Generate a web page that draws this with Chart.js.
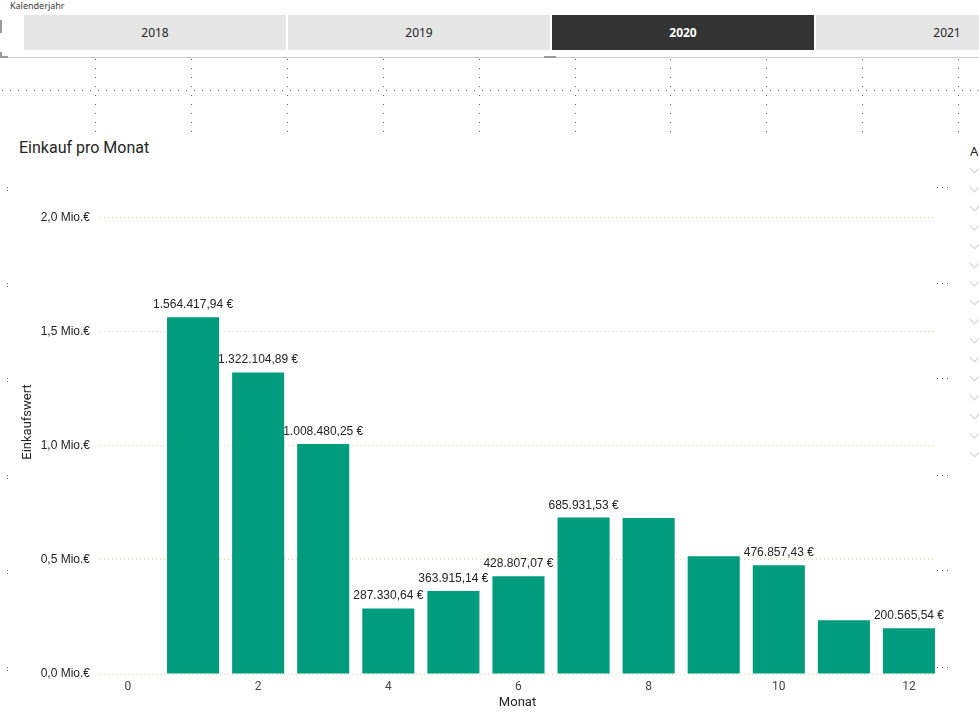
<!DOCTYPE html>
<html>
<head>
<meta charset="utf-8">
<script src="https://cdn.jsdelivr.net/npm/chart.js@4.4.1/dist/chart.umd.min.js"></script>
<style>
  html, body { margin: 0; padding: 0; background: #fff; overflow: hidden; }
  body { width: 979px; height: 714px; position: relative; font-family: "Noto Sans", "Liberation Sans", sans-serif; }
  .abs { position: absolute; }
  #slicerTitle { left: 10px; top: -1px; font-size: 9px; color: #3b3a39; font-family: "Noto Sans", sans-serif; }
  .btn { position: absolute; top: 15px; height: 35px; width: 262px; background: #e6e6e6; color: #252423;
         font-size: 12px; line-height: 35px; text-align: center; font-family: "Noto Sans", sans-serif; }
  .btn.sel { background: #333333; color: #fff; font-weight: bold; }
  #hline { left: 0; top: 57px; width: 979px; height: 1px; background: #c8c8c8; }
  #chartTitle { left: 19px; top: 137px; font-size: 16px; line-height: 22px; color: #252423; font-family: Roboto, sans-serif; }
  #wrap { position: absolute; left: 0; top: 2px; width: 979px; height: 714px; }
  #wrap canvas { display: block; }
  .chev { position: absolute; width: 6px; height: 6px; border-right: 1px solid #d2d2d2; border-bottom: 1px solid #d2d2d2; transform: rotate(45deg); }
  .dot { position: absolute; width: 1px; height: 1px; background: #666; }
</style>
</head>
<body>
<div id="slicerTitle" class="abs">Kalenderjahr</div>
<div id="slicer"></div>
<div id="hline" class="abs"></div>
<div class="abs" style="left:0;top:20px;width:2px;height:13px;background:#9a9a9a"></div>
<div class="abs" style="left:0;top:52px;width:2px;height:6px;background:#9a9a9a"></div>
<div class="abs" style="left:0;top:56px;width:8px;height:2px;background:#9a9a9a"></div>
<div class="abs" style="left:544px;top:56px;width:12px;height:2px;background:#9a9a9a"></div>
<div id="deco"></div>
<div id="chartTitle" class="abs">Einkauf pro Monat</div>
<div class="abs" style="left:970px;top:142px;font-size:13px;color:#252423;font-family:'Noto Sans',sans-serif">A</div>
<div id="wrap"><canvas id="c" width="979" height="714"></canvas></div>
<script>
// ---- data ----
const years = ['2018', '2019', '2020', '2021'];
const selectedYear = '2020';
const months = [1, 2, 3, 4, 5, 6, 7, 8, 9, 10, 11, 12];
const purchaseValues = [1564417.94, 1322104.89, 1008480.25, 287330.64, 363915.14, 428807.07, 685931.53, 683500, 516000, 476857.43, 236000, 200565.54];
const labelShown = [true, true, true, true, true, true, true, false, false, true, false, true];
const yTickValues = [0, 500000, 1000000, 1500000, 2000000];
const yTickLabels = ['0,0 Mio.€', '0,5 Mio.€', '1,0 Mio.€', '1,5 Mio.€', '2,0 Mio.€'];
const xTickValues = [0, 2, 4, 6, 8, 10, 12];

// ---- slicer ----
const slicer = document.getElementById('slicer');
years.forEach((y, i) => {
  const d = document.createElement('div');
  d.className = 'btn' + (y === selectedYear ? ' sel' : '');
  d.style.left = (24 + i * 264) + 'px';
  d.textContent = y;
  slicer.appendChild(d);
});

// ---- canvas background grid decorations ----
const deco = document.getElementById('deco');
function dot(x, y) { const d = document.createElement('div'); d.className = 'dot'; d.style.left = x + 'px'; d.style.top = y + 'px'; deco.appendChild(d); }
[95, 191, 287, 383, 479, 575, 670, 766, 862, 958].forEach(x => { for (let y = 59; y < 132; y += 9) dot(x, y); });
for (let x = 2; x < 979; x += 8) dot(x, 90);
[187, 283, 378, 475, 570, 667].forEach(y => { dot(7, y); dot(7, y + 3); dot(937, y); dot(942, y); dot(947, y); });
for (let i = 0; i < 16; i++) {
  const c = document.createElement('div'); c.className = 'chev';
  c.style.left = '971px'; c.style.top = (165 + i * 18.9) + 'px';
  deco.appendChild(c);
}

// ---- helpers ----
function fmtEuro(v) {
  const parts = v.toFixed(2).split('.');
  const intPart = parts[0].replace(/\B(?=(\d{3})+(?!\d))/g, '.');
  return intPart + ',' + parts[1] + ' €';
}

const dataLabelPlugin = {
  id: 'dataLabels',
  afterDatasetsDraw(chart) {
    const ctx = chart.ctx;
    const meta = chart.getDatasetMeta(0);
    ctx.save();
    ctx.font = '12px "Liberation Sans", Arial, sans-serif';
    ctx.fillStyle = '#252423';
    ctx.textAlign = 'center';
    ctx.textBaseline = 'alphabetic';
    meta.data.forEach((bar, i) => {
      if (!labelShown[i]) return;
      ctx.fillText(fmtEuro(purchaseValues[i]), bar.x, bar.y - 9);
    });
    ctx.restore();
  }
};

new Chart(document.getElementById('c'), {
  type: 'bar',
  data: {
    datasets: [{
      label: 'Einkaufswert',
      data: months.map((m, i) => ({ x: m, y: purchaseValues[i] })),
      backgroundColor: '#019b7d',
      borderWidth: 0,
      barPercentage: 1,
      categoryPercentage: 0.8
    }]
  },
  options: {
    responsive: false,
    animation: false,
    devicePixelRatio: 1,
    layout: { padding: { left: 0, right: 44, top: 168, bottom: 0 } },
    plugins: { legend: { display: false }, tooltip: { enabled: false }, title: { display: false } },
    scales: {
      x: {
        type: 'linear',
        min: -0.43,
        max: 12.4,
        offset: false,
        afterBuildTicks(scale) { scale.ticks = xTickValues.map(v => ({ value: v })); },
        afterFit(scale) { scale.height = 42; },
        grid: { display: false, drawTicks: false },
        border: { display: false },
        ticks: { padding: 6, maxRotation: 0, autoSkip: false, color: '#444', font: { family: 'Roboto', size: 12 } },
        title: { display: true, text: 'Monat', color: '#252423', font: { family: 'Roboto', size: 13 }, padding: { top: 0, bottom: 5 } }
      },
      y: {
        min: 0,
        max: 2210000,
        afterBuildTicks(scale) { scale.ticks = yTickValues.map(v => ({ value: v })); },
        afterFit(scale) { scale.width = 100; },
        grid: { display: true, drawTicks: false, color: '#e6d99c', lineWidth: 1 },
        border: { display: false, dash: [1, 3] },
        ticks: {
          padding: 10,
          color: '#252423',
          font: { family: '"Liberation Sans", Arial', size: 12 },
          callback(value) { const i = yTickValues.indexOf(value); return i >= 0 ? yTickLabels[i] : ''; }
        },
        title: { display: true, text: 'Einkaufswert', color: '#252423', font: { family: 'Roboto', size: 13 }, padding: { top: 20, bottom: 0 } }
      }
    }
  },
  plugins: [dataLabelPlugin]
});
</script>
</body>
</html>
